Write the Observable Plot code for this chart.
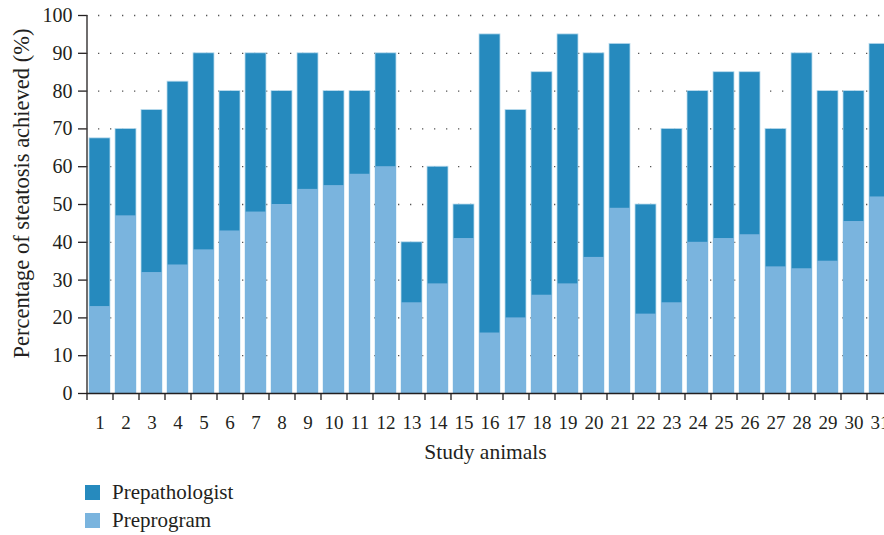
<!DOCTYPE html>
<html><head><meta charset="utf-8">
<script src="https://cdn.jsdelivr.net/npm/d3@7"></script>
<script src="https://cdn.jsdelivr.net/npm/@observablehq/plot@0.6"></script>
<style>
body{margin:0;background:#fff;font-family:"Liberation Serif",serif;color:#231f20}
#chart{position:absolute;left:0;top:0}
#legend{position:absolute;left:85px;top:478px;font-size:21px;font-family:"Liberation Serif",serif;color:#231f20}
.item{display:flex;align-items:center;height:28px}
.sw{width:15px;height:15px;margin-right:12px}
</style></head><body><div id="chart"></div><div id="legend"></div>
<script>
const animals = ["1","2","3","4","5","6","7","8","9","10","11","12","13","14","15","16","17","18","19","20","21","22","23","24","25","26","27","28","29","30","31"];
const prepathologist = [67.5,70,75,82.5,90,80,90,80,90,80,80,90,40,60,50,95,75,85,95,90,92.5,50,70,80,85,85,70,90,80,80,92.5];
const preprogram = [23,47,32,34,38,43,48,50,54,55,58,60,24,29,41,16,20,26,29,36,49,21,24,40,41,42,33.5,33,35,45.5,52];
const yTicks = [0,10,20,30,40,50,60,70,80,90,100];
const seriesNames = ["Prepathologist","Preprogram"];
const colors = ["#268abe","#7ab4de"];
const yTitle = "Percentage of steatosis achieved (%)";
const xTitle = "Study animals";

const data = animals.map((a,i)=>({animal:a, prepath:prepathologist[i], preprog:preprogram[i]}));
const ink = "#231f20";
const chart = Plot.plot({
  width:884, height:470, marginLeft:86, marginRight:0, marginTop:15, marginBottom:77,
  style:{fontFamily:"Liberation Serif", fontSize:"18px", color:ink, background:"white", overflow:"visible"},
  x:{domain:animals, range:[86,892], paddingInner:0.2, paddingOuter:0.1, label:null},
  y:{domain:[0,100], range:[393,15], label:null},
  marks:[
    Plot.ruleY(yTicks.filter(d=>d>0), {stroke:"#555", strokeDasharray:"1.3,10.7", strokeWidth:1.3}),
    Plot.barY(data,{x:"animal", y:"prepath", fill:colors[0], stroke:"#bcdcee", strokeWidth:0.8}),
    Plot.barY(data,{x:"animal", y:"preprog", fill:colors[1]}),
    Plot.ruleY([0], {stroke:ink, strokeWidth:1.3}),
    Plot.ruleX([animals[0]], {y1:0, y2:100, dx:-13, stroke:ink, strokeWidth:1.3}),
    Plot.axisY({ticks:yTicks, tickSize:8, tickPadding:6, stroke:ink, strokeWidth:1.3, fontSize:20, label:null}),
    Plot.axisX({tickSize:0, tickPadding:22, fontSize:19, label:null}),
    Plot.axisX({tickSize:7, tickFormat:()=>"", dx:-13, stroke:ink, strokeWidth:1.3, label:null}),
    Plot.text([yTitle], {text:d=>d, frameAnchor:"left", textAnchor:"middle", rotate:-90, dx:-65, dy:-11, fontSize:22.5, fill:ink}),
    Plot.text([xTitle], {text:d=>d, frameAnchor:"bottom", dy:65, fontSize:21.5, fill:ink})
  ]
});
document.getElementById("chart").appendChild(chart);
const lg = document.getElementById("legend");
seriesNames.forEach((n,i)=>{
  const it = document.createElement("div"); it.className="item";
  const sw = document.createElement("div"); sw.className="sw"; sw.style.background=colors[i];
  const t = document.createElement("span"); t.textContent=n;
  it.appendChild(sw); it.appendChild(t); lg.appendChild(it);
});
</script></body></html>
